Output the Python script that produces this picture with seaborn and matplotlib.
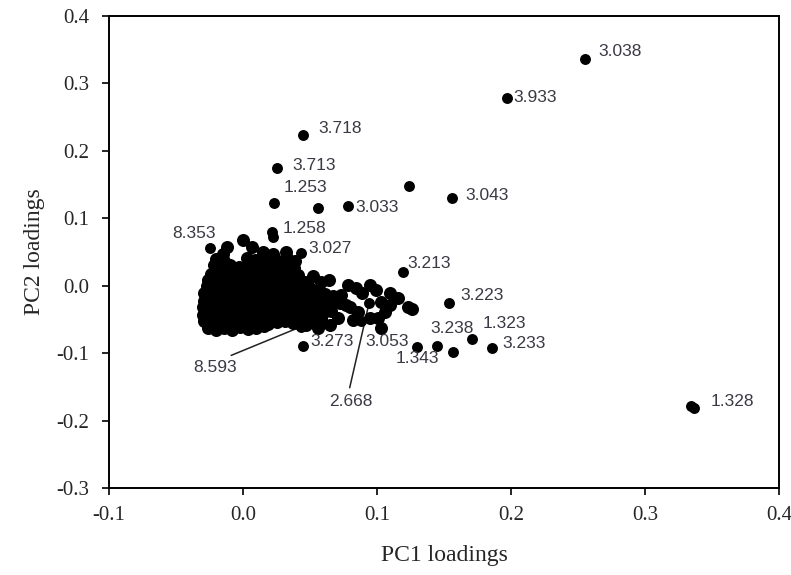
import matplotlib
matplotlib.use("Agg")
import matplotlib.pyplot as plt
import seaborn as sns
import pandas as pd

# Dense core of the loadings (PC1, PC2)
core = [
    (-0.012, 0.057), (0.000, 0.068), (0.007, 0.057), (0.015, 0.050), (0.032, 0.050), (-0.015, 0.047), (0.022, 0.047),
    (-0.020, 0.040), (-0.014, 0.037), (0.003, 0.041), (0.009, 0.038), (0.014, 0.042), (0.021, 0.039), (0.026, 0.036),
    (0.033, 0.041), (0.039, 0.037),
    (-0.022, 0.030), (-0.016, 0.027), (-0.010, 0.031), (-0.003, 0.028), (0.003, 0.029), (0.009, 0.032), (0.015, 0.027),
    (0.021, 0.030), (0.027, 0.028), (0.032, 0.031), (0.038, 0.026),
    (-0.024, 0.018), (-0.018, 0.020), (-0.012, 0.017), (-0.006, 0.021), (0.000, 0.019), (0.006, 0.016), (0.012, 0.020),
    (0.018, 0.018), (0.023, 0.021), (0.029, 0.017), (0.035, 0.019), (0.041, 0.016),
    (-0.026, 0.009), (-0.020, 0.006), (-0.014, 0.010), (-0.008, 0.007), (-0.002, 0.008), (0.004, 0.011), (0.010, 0.006),
    (0.016, 0.009), (0.022, 0.007), (0.028, 0.010), (0.034, 0.005), (0.040, 0.008), (0.046, 0.006),
    (-0.027, -0.001), (-0.021, -0.003), (-0.015, 0.000), (-0.009, -0.004), (-0.003, -0.002), (0.003, 0.001),
    (0.009, -0.003), (0.015, -0.001), (0.021, -0.004), (0.026, 0.000), (0.032, -0.002), (0.038, -0.005),
    (0.044, -0.001), (0.050, -0.003), (0.056, -0.006),
    (-0.029, -0.011), (-0.023, -0.013), (-0.017, -0.010), (-0.011, -0.014), (-0.005, -0.012), (0.001, -0.009),
    (0.007, -0.013), (0.013, -0.011), (0.019, -0.015), (0.025, -0.012), (0.031, -0.010), (0.037, -0.014),
    (0.043, -0.012), (0.049, -0.016), (0.055, -0.011), (0.061, -0.013), (0.067, -0.015),
    (-0.029, -0.022), (-0.024, -0.025), (-0.018, -0.021), (-0.012, -0.024), (-0.006, -0.023), (0.000, -0.020),
    (0.006, -0.026), (0.012, -0.022), (0.018, -0.024), (0.024, -0.021), (0.030, -0.025), (0.036, -0.023),
    (0.042, -0.026), (0.048, -0.022), (0.054, -0.024), (0.060, -0.027), (0.066, -0.023), (0.072, -0.025),
    (-0.030, -0.032), (-0.024, -0.035), (-0.018, -0.031), (-0.012, -0.034), (-0.006, -0.033), (0.000, -0.036),
    (0.006, -0.032), (0.012, -0.034), (0.018, -0.031), (0.024, -0.035), (0.030, -0.033), (0.036, -0.030),
    (0.042, -0.034), (0.048, -0.036), (0.054, -0.032), (0.060, -0.035), (0.066, -0.037),
    (-0.030, -0.043), (-0.024, -0.046), (-0.018, -0.042), (-0.012, -0.045), (-0.006, -0.044), (0.000, -0.047),
    (0.006, -0.043), (0.012, -0.041), (0.018, -0.046), (0.024, -0.044), (0.030, -0.042), (0.036, -0.045),
    (0.042, -0.048), (0.048, -0.043), (0.054, -0.046), (0.058, -0.050),
    (-0.029, -0.053), (-0.023, -0.055), (-0.017, -0.052), (-0.011, -0.056), (-0.005, -0.054), (0.001, -0.051),
    (0.007, -0.055), (0.013, -0.053), (0.019, -0.057), (0.025, -0.054), (0.031, -0.052), (0.037, -0.056),
    (0.043, -0.058),
    (-0.026, -0.063), (-0.020, -0.066), (-0.014, -0.062), (-0.008, -0.065), (-0.002, -0.061), (0.004, -0.064),
    (0.010, -0.062), (0.016, -0.060),
]

# Tail of the cloud stretching towards positive PC1
tail = [
    (0.050, -0.051), (0.060, -0.041), (0.068, -0.021), (0.078, 0.001), (0.084, -0.004), (0.089, -0.011),
    (0.095, 0.001), (0.099, -0.007), (0.103, -0.024), (0.110, -0.011), (0.116, -0.018), (0.123, -0.032),
    (0.126, -0.035), (0.080, -0.032), (0.086, -0.039), (0.082, -0.051), (0.095, -0.048), (0.101, -0.048),
    (0.103, -0.063), (0.073, -0.014), (0.077, -0.029), (0.071, -0.048), (0.065, -0.059), (0.056, -0.063),
    (0.047, -0.059), (0.110, -0.029), (0.106, -0.039), (0.052, 0.014), (0.058, 0.005), (0.064, 0.008),
]

# Isolated, unlabelled loadings
isolated = [
    (0.0563, 0.1152), (0.124, 0.1479), (0.157, -0.0985), (0.0224, 0.072), (0.3365, -0.181),
]

# Labelled loadings (chemical shift, ppm)
label_names = ["3.038", "3.933", "3.718", "3.713", "1.253", "3.033", "1.258", "3.027", "8.353",
               "3.043", "3.213", "3.223", "3.238", "1.323", "3.233", "1.343", "1.328", "3.273",
               "3.053", "8.593", "2.668"]
label_pc1 = [0.2552, 0.1967, 0.045, 0.0257, 0.0228, 0.078, 0.0216, 0.043, -0.025,
             0.156, 0.119, 0.1534, 0.145, 0.171, 0.1854, 0.1295, 0.334, 0.0444,
             0.088, 0.043, 0.094]
label_pc2 = [0.336, 0.2783, 0.2231, 0.1744, 0.122, 0.118, 0.0795, 0.0484, 0.056,
             0.130, 0.0202, -0.0257, -0.0896, -0.0792, -0.0926, -0.0911, -0.1786, -0.0896,
             -0.052, -0.061, -0.026]

# Where each label's text sits (left edge, vertical centre)
text_pos = {
    "3.038": (0.2653, 0.3466), "3.933": (0.2019, 0.2798), "3.718": (0.0563, 0.2337),
    "3.713": (0.0369, 0.1789), "1.253": (0.0302, 0.1456), "3.033": (0.0840, 0.1165),
    "1.258": (0.0295, 0.0855), "3.027": (0.0489, 0.0553), "8.353": (-0.0526, 0.0780),
    "3.043": (0.1660, 0.1344), "3.213": (0.1228, 0.0336), "3.223": (0.1623, -0.0142),
    "3.238": (0.1400, -0.0641), "1.323": (0.1787, -0.0558), "3.233": (0.1937, -0.0855),
    "1.343": (0.1138, -0.1077), "1.328": (0.3489, -0.1721), "3.273": (0.0504, -0.0834),
    "3.053": (0.0914, -0.0834), "8.593": (-0.0369, -0.1209), "2.668": (0.0640, -0.1713),
}
leader = {"8.593": (0.62, 1.0), "2.668": (0.45, 1.0)}

cloud = pd.DataFrame({"PC1": [p[0] for p in core + tail], "PC2": [p[1] for p in core + tail]})
singles = pd.DataFrame({
    "PC1": [p[0] for p in isolated] + label_pc1,
    "PC2": [p[1] for p in isolated] + label_pc2,
})

sns.set_theme(style="white")
plt.rcParams["axes.unicode_minus"] = False

fig = plt.figure(figsize=(7.91, 5.75), dpi=100)
ax = fig.add_axes([0.1378, 0.1513, 0.8472, 0.8209])

sns.scatterplot(data=cloud, x="PC1", y="PC2", ax=ax, color="black", s=88,
                linewidth=0, marker="o", legend=False, zorder=3)
sns.scatterplot(data=singles, x="PC1", y="PC2", ax=ax, color="black", s=62,
                linewidth=0, marker="o", legend=False, zorder=3)

for name, x, y in zip(label_names, label_pc1, label_pc2):
    tx, ty = text_pos[name]
    if name in leader:
        ax.annotate(name, xy=(x, y), xytext=(tx, ty), ha="left", va="center",
                    fontsize=12.5, color="#3a3a44", family="Liberation Sans",
                    arrowprops=dict(arrowstyle="-", color="#222222", lw=1.1,
                                    relpos=leader[name], shrinkA=2, shrinkB=0),
                    zorder=2)
    else:
        ax.text(tx, ty, name, ha="left", va="center", fontsize=12.5,
                color="#3a3a44", family="Liberation Sans", zorder=4)

ax.set_xlim(-0.1, 0.4)
ax.set_ylim(-0.3, 0.4)
ticks_x = [-0.1, 0.0, 0.1, 0.2, 0.3, 0.4]
ticks_y = [-0.3, -0.2, -0.1, 0.0, 0.1, 0.2, 0.3, 0.4]
ax.set_xticks(ticks_x)
ax.set_yticks(ticks_y)
ax.set_xticklabels([f"{t:.1f}" for t in ticks_x], family="Liberation Serif", fontsize=15)
ax.set_yticklabels([f"{t:.1f}" for t in ticks_y], family="Liberation Serif", fontsize=15)
ax.tick_params(axis="both", direction="out", length=5, width=1.2, color="black",
               bottom=True, left=True, top=False, right=False)
ax.tick_params(axis="y", pad=9)
ax.tick_params(axis="x", pad=8)

for sp in ax.spines.values():
    sp.set_visible(True)
    sp.set_color("black")
    sp.set_linewidth(1.4)

ax.set_xlabel("PC1 loadings", family="Liberation Serif", fontsize=17, labelpad=14)
ax.set_ylabel("PC2 loadings", family="Liberation Serif", fontsize=17, labelpad=8)

fig.savefig("out.png", dpi=100)
